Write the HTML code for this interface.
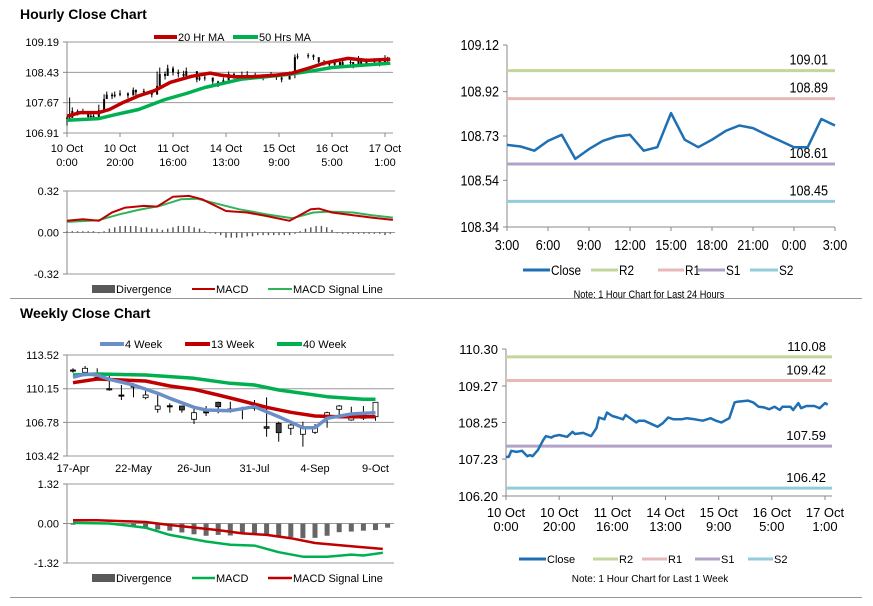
<!DOCTYPE html>
<html><head><meta charset="utf-8">
<style>
html,body{margin:0;padding:0;background:#fff;}
body{width:873px;height:601px;overflow:hidden;font-family:"Liberation Sans",Arial,sans-serif;}
svg text{font-family:"Liberation Sans",Arial,sans-serif;}
</style></head>
<body>
<svg id="s" width="873" height="601" viewBox="0 0 873 601" xmlns="http://www.w3.org/2000/svg">
<text x="20" y="19" font-size="14" font-weight="bold" fill="#000">Hourly Close Chart</text>
<text x="20" y="318" font-size="14" font-weight="bold" fill="#000">Weekly Close Chart</text>
<line x1="10" y1="298.5" x2="862" y2="298.5" stroke="#999" stroke-width="1"/>
<line x1="10" y1="597.5" x2="862" y2="597.5" stroke="#999" stroke-width="1"/>
</svg>
<script>
// ---------- data ----------
const hourIdx = [0,1,2,4,6,8,9,10,12,14,15,17,18,20,23,25,26,29,32,34,35,37,38,40,42,44,45,49,50,52,55,57,59,61,63,66,68,71,74,77,79,81,84,86,87,91,93,95,97,99,101,103,104,107,108,110,111,113,116,118,120,121];
const hourClose = [107.29,107.29,107.46,107.43,107.46,107.31,107.34,107.31,107.48,107.76,107.87,107.83,107.87,107.90,107.85,107.99,107.93,107.96,107.87,108.09,108.39,108.34,108.53,108.43,108.39,108.34,108.46,108.25,108.30,108.30,108.20,108.13,108.23,108.39,108.34,108.34,108.37,108.34,108.30,108.37,108.30,108.25,108.37,108.81,108.83,108.86,108.81,108.69,108.67,108.62,108.69,108.60,108.69,108.69,108.60,108.79,108.65,108.71,108.71,108.65,108.79,108.75];
const hourHigh = [107.33,107.80,107.55,107.50,107.52,107.40,107.42,107.38,107.62,107.88,107.95,107.92,107.95,107.98,107.93,108.05,108.00,108.02,107.95,108.45,108.55,108.45,108.62,108.58,108.50,108.47,108.55,108.36,108.38,108.36,108.30,108.22,108.30,108.45,108.42,108.45,108.46,108.42,108.38,108.44,108.38,108.34,108.45,108.88,108.90,108.91,108.88,108.78,108.74,108.70,108.76,108.68,108.76,108.76,108.68,108.84,108.74,108.78,108.78,108.72,108.86,108.82];
const hourLow = [107.10,107.22,107.36,107.35,107.38,107.25,107.27,107.25,107.40,107.45,107.80,107.76,107.80,107.83,107.78,107.88,107.85,107.88,107.80,107.95,108.20,108.25,108.40,108.35,108.30,108.26,108.36,108.18,108.22,108.22,108.10,108.06,108.15,108.30,108.27,108.27,108.30,108.27,108.23,108.30,108.24,108.18,108.30,108.28,108.76,108.78,108.74,108.62,108.60,108.55,108.60,108.53,108.62,108.62,108.53,108.70,108.58,108.64,108.64,108.58,108.70,108.68];
const ma20Idx = [0,5,12,16,21,27,33,39,47,54,58,63,70,79,85,92,97,106,113,122];
const ma20Val = [107.33,107.42,107.42,107.50,107.67,107.84,107.97,108.18,108.33,108.41,108.36,108.32,108.32,108.36,108.41,108.55,108.66,108.78,108.73,108.76];
const ma50Idx = [0,12,19,27,37,45,52,60,66,75,84,93,100,108,122];
const ma50Val = [107.23,107.27,107.38,107.50,107.75,107.90,108.05,108.17,108.26,108.32,108.38,108.47,108.55,108.59,108.66];
const hMacdIdx = [0,6,12,17,22,29,34,40,46,51,60,68,75,84,92,95,100,108,115,123];
const hMacdVal = [0.090,0.102,0.090,0.154,0.192,0.205,0.200,0.276,0.282,0.256,0.166,0.154,0.128,0.090,0.179,0.184,0.154,0.133,0.115,0.097];
const hSigIdx = [0,12,20,27,35,43,49,56,65,75,85,93,99,108,115,123];
const hSigVal = [0.082,0.095,0.141,0.174,0.205,0.256,0.261,0.225,0.179,0.141,0.110,0.154,0.161,0.154,0.133,0.115];
const hDivIdx = [0,2,4,6,8,10,12,14,16,18,20,22,24,26,28,30,32,34,36,38,40,42,44,46,48,50,52,54,56,58,60,62,64,66,68,70,72,74,76,78,80,82,84,86,88,90,92,94,96,98,100,102,104,106,108,110,112,114,116,118,120,122];
const hDivVal = [0.01,0.01,0.01,0.01,0.01,0.01,0.0,0.01,0.03,0.04,0.05,0.05,0.05,0.05,0.04,0.04,0.03,0.03,0.02,0.03,0.04,0.05,0.05,0.05,0.04,0.03,0.01,0.0,-0.01,-0.02,-0.04,-0.04,-0.04,-0.04,-0.03,-0.03,-0.02,-0.02,-0.02,-0.02,-0.02,-0.02,-0.02,-0.01,0.01,0.03,0.04,0.05,0.05,0.04,0.02,0.0,-0.01,-0.01,-0.01,-0.01,-0.01,-0.01,-0.01,-0.01,-0.02,-0.01];
const hTickIdx = [0,20,40,60,80,100,120];
const hTickL1 = ["10 Oct","10 Oct","11 Oct","14 Oct","15 Oct","16 Oct","17 Oct"];
const hTickL2 = ["0:00","20:00","16:00","13:00","9:00","5:00","1:00"];
const hPriceTicks = ["106.91","107.67","108.43","109.19"];
const hMacdTicks = ["-0.32","0.00","0.32"];

const dayClose = [108.692,108.685,108.667,108.709,108.735,108.632,108.674,108.709,108.728,108.735,108.667,108.682,108.828,108.714,108.682,108.714,108.752,108.775,108.764,108.735,108.709,108.682,108.682,108.803,108.775];
const dayTicks = ["3:00","6:00","9:00","12:00","15:00","18:00","21:00","0:00","3:00"];
const dayPriceTicks = ["108.34","108.54","108.73","108.92","109.12"];
const dayLevels = [109.01,108.89,108.61,108.45];
const weekLevels = [110.08,109.42,107.59,106.42];
const levelNames = ["R2","R1","S1","S2"];
const levelColors = ["#c3d69b","#e6b9b8","#b3a2c7","#93cddd"];
const weekPriceTicks = ["106.20","107.23","108.25","109.27","110.30"];

const wOpen  = [112.02,111.79,111.29,110.15,109.52,110.42,109.25,108.09,108.45,108.42,107.09,107.85,108.79,108.12,108.19,108.29,106.35,106.69,106.19,105.59,105.79,107.35,108.09,107.02,107.52,107.35];
const wClose = [112.02,112.19,111.29,110.05,109.52,110.42,109.52,108.42,108.45,108.02,107.75,107.85,108.35,108.12,108.19,108.29,106.19,105.75,106.52,106.19,106.35,107.75,108.42,107.69,107.19,108.79];
const wHigh  = [112.19,112.42,112.19,111.52,110.52,110.69,110.19,109.85,108.69,108.42,108.19,108.42,108.85,108.85,108.35,109.02,109.29,106.85,106.85,106.85,106.62,107.85,108.52,108.35,108.42,108.79];
const wLow   = [111.75,111.75,111.09,109.95,109.02,109.29,109.09,107.75,107.75,107.75,106.62,107.42,107.69,107.75,107.09,107.95,105.35,104.85,105.52,104.35,105.62,106.25,107.35,106.95,107.02,106.95];
const w4Idx = [0,1,2,3,5,7,8,10,11,13,15,17,19,20,21,23,24,25];
const w4Val = [111.29,111.62,111.52,111.09,110.52,109.69,109.19,108.29,108.02,107.95,108.35,107.35,106.25,106.25,107.19,107.62,107.69,107.75];
const w13Idx = [0,2,6,8,10,12,14,16,18,20,22,23,25];
const w13Val = [110.75,111.12,110.92,110.42,110.09,109.52,108.92,108.29,107.79,107.42,107.35,107.35,107.35];
const w40Idx = [0,2,6,10,13,15,17,21,24,25];
const w40Val = [111.52,111.62,111.52,111.19,110.69,110.52,110.02,109.35,109.09,109.09];
const wSigIdx = [0,2,6,8,12,14,16,18,20,23,25.6];
const wSigVal = [0.11,0.11,0.05,-0.05,-0.22,-0.33,-0.38,-0.49,-0.65,-0.76,-0.85];
const wMacdIdx = [0,3,6,8,11,13,15,17,19,21,23,24,25.6];
const wMacdVal = [0.02,0.0,-0.14,-0.38,-0.60,-0.71,-0.74,-0.96,-1.11,-1.11,-1.04,-1.07,-0.98];
const wDiv = [-0.04,-0.01,-0.01,-0.03,-0.05,-0.08,-0.12,-0.2,-0.24,-0.3,-0.36,-0.41,-0.38,-0.4,-0.35,-0.33,-0.4,-0.46,-0.45,-0.49,-0.48,-0.41,-0.29,-0.27,-0.24,-0.22,-0.14];
const wTickIdx = [0,5,10,15,20,25];
const wTickLbl = ["17-Apr","22-May","26-Jun","31-Jul","4-Sep","9-Oct"];
const wPriceTicks = ["103.42","106.78","110.15","113.52"];
const wMacdTicks = ["-1.32","0.00","1.32"];

// ---------- helpers ----------
const svg = document.getElementById('s');
const NS = 'http://www.w3.org/2000/svg';
function mk(tag, attrs){const e=document.createElementNS(NS,tag);for(const k in attrs)e.setAttribute(k,attrs[k]);svg.appendChild(e);return e;}
function lin(d0,d1,r0,r1){return v=>r0+(v-d0)/(d1-d0)*(r1-r0);}
function txt(x,y,s,size,anchor,name){const t=mk('text',{x:x,y:y,'font-size':size,'text-anchor':anchor||'start',fill:'#000'});t.textContent=s;


return t;}
// condensed text (Arial-Narrow look)
function ntxt(x,y,s,size,anchor,name){const t=mk('text',{x:0,y:0,'font-size':size,'text-anchor':anchor||'start',fill:'#000',transform:'translate('+x+','+y+') scale(0.84,1)'});t.textContent=s;


return t;}
function poly(xs,ys,color,w,name){let d='';for(let i=0;i<xs.length;i++)d+=(i?'L':'M')+xs[i].toFixed(1)+','+ys[i].toFixed(1);
const p=mk('path',{d:d,fill:'none',stroke:color,'stroke-width':w,'stroke-linejoin':'round'});


return p;}
function hline(x1,x2,y,color,w,name){const l=mk('line',{x1:x1,x2:x2,y1:y,y2:y,stroke:color,'stroke-width':w});


return l;}
function vline(x,y1,y2,color,w,name){const l=mk('line',{x1:x,x2:x,y1:y1,y2:y2,stroke:color,'stroke-width':w});


return l;}
function legendLine(x1,x2,y,color,w,label,name){hline(x1,x2,y,color,w,name+'-swatch');txt(x2+1,y+4,label,11,'start',name+'-label');}
function legendLineN(x1,x2,y,color,w,label,name){hline(x1,x2,y,color,w,name+'-swatch');ntxt(x2+1,y+5,label,14,'start',name+'-label');}
function legendBox(x1,x2,y,color,label,name){const r=mk('rect',{x:x1,y:y-4,width:x2-x1,height:8,fill:color});


txt(x2+1,y+4,label,11,'start',name+'-label');}

// ---------- Panel 1: hourly candles ----------
{
 const xs=lin(0,120,67,385), ys=lin(106.91,109.19,133,42);
 hPriceTicks.forEach(t=>{const y=ys(parseFloat(t));hline(67,393,y,'#999',1,'hourly-gridline');hline(63,67,y,'#888',1,'hourly-y-tick');txt(59,y+4,t,11,'end','hourly-y-label');});
 vline(67,42,133,'#888',1,'hourly-y-axis');
 hTickIdx.forEach((v,i)=>{const x=xs(v);vline(x,133,137,'#888',1,'hourly-x-tick');txt(x,152,hTickL1[i],11,'middle','hourly-x-label');txt(x,166,hTickL2[i],11,'middle','hourly-x-label');});
 hourIdx.forEach((h,i)=>{const x=xs(h);vline(x,ys(hourHigh[i]),ys(hourLow[i]),'#000',1,'hourly-candle-wick');
  const o=i?hourClose[i-1]:hourClose[i];const c=hourClose[i];const top=ys(Math.max(o,c)),bot=ys(Math.min(o,c));
  const r=mk('rect',{x:x-1,y:top,width:2,height:Math.max(1,bot-top),fill:'#000'});
  
  
 });
 poly(ma50Idx.map(xs),ma50Val.map(ys),'#00b050',3.5,'ma-50-line');
 poly(ma20Idx.map(xs),ma20Val.map(ys),'#c00000',3.5,'ma-20-line');
 legendLine(154,177,37,'#c00000',4,'20 Hr MA','legend-20hr-ma');
 legendLine(233,258,37,'#00b050',4,'50 Hrs MA','legend-50hrs-ma');
}
// ---------- Panel 1b: hourly MACD ----------
{
 const xs=lin(0,120,67,385), ys=lin(-0.32,0.32,274,191);
 hMacdTicks.forEach(t=>{const y=ys(parseFloat(t));hline(67,395,y,'#999',1,'hourly-macd-gridline');hline(63,67,y,'#888',1,'hourly-macd-tick');txt(59,y+4,t,11,'end','hourly-macd-y-label');});
 vline(67,191,274,'#888',1,'hourly-macd-axis');
 hDivIdx.forEach((h,i)=>{const v=hDivVal[i];const y0=ys(0),y1=ys(v);
  const r=mk('rect',{x:xs(h)-0.7,y:Math.min(y0,y1),width:1.4,height:Math.max(0.8,Math.abs(y1-y0)),fill:'#555'});
  
  
 });
 poly(hSigIdx.map(xs),hSigVal.map(ys),'#2fb45a',2,'hourly-macd-signal-line');
 poly(hMacdIdx.map(xs),hMacdVal.map(ys),'#c00000',2,'hourly-macd-line');
 legendBox(92,115,289,'#595959','Divergence','legend-hourly-divergence');
 legendLine(192,215,289,'#c00000',2,'MACD','legend-hourly-macd');
 legendLine(268,292,289,'#2fb45a',2,'MACD Signal Line','legend-hourly-signal');
}
// ---------- Panel 2: last 24 hours ----------
{
 const xs=lin(0,24,507,835), ys=lin(108.34,109.12,227,45);
 vline(507,45,227,'#888',1,'day-y-axis');hline(507,835,227,'#888',1,'day-x-axis');
 dayPriceTicks.forEach(t=>{const y=ys(parseFloat(t));hline(503,507,y,'#888',1,'day-y-tick');ntxt(499,y+5,t,15,'end','day-y-label');});
 dayTicks.forEach((t,i)=>{const x=xs(i*3);vline(x,227,231,'#888',1,'day-x-tick');ntxt(x,250,t,15,'middle','day-x-label');});
 dayLevels.forEach((v,i)=>{hline(507,835,ys(v),levelColors[i],3,'day-level-'+levelNames[i].toLowerCase());ntxt(828,ys(v)-6,v.toFixed(2),15,'end','day-level-label');});
 poly(dayClose.map((v,i)=>xs(i)),dayClose.map(ys),'#1f6fb4',2.5,'day-close-line');
 legendLineN(523,550,270,'#1f6fb4',3,'Close','legend-day-close');
 legendLineN(591,618,270,levelColors[0],3,'R2','legend-day-r2');
 legendLineN(658,684,270,levelColors[1],3,'R1','legend-day-r1');
 legendLineN(698,725,270,levelColors[2],3,'S1','legend-day-s1');
 legendLineN(750,778,270,levelColors[3],3,'S2','legend-day-s2');
 ntxt(649,298,'Note: 1 Hour Chart for Last 24 Hours',11,'middle','day-note');
}
// ---------- Panel 3: weekly candles ----------
{
 const xs=lin(0,25,73,375.5), ys=lin(103.42,113.52,456,355);
 wPriceTicks.forEach(t=>{const y=ys(parseFloat(t));hline(67,394,y,'#999',1,'weekly-gridline');hline(63,67,y,'#888',1,'weekly-y-tick');txt(59,y+4,t,11,'end','weekly-y-label');});
 vline(67,355,456,'#888',1,'weekly-y-axis');
 wTickIdx.forEach((v,i)=>{txt(xs(v),472,wTickLbl[i],11,'middle','weekly-x-label');});
 wOpen.forEach((o,i)=>{const x=xs(i),c=wClose[i];vline(x,ys(wHigh[i]),ys(wLow[i]),'#000',1,'weekly-candle-wick');
  const top=ys(Math.max(o,c)),bot=ys(Math.min(o,c));
  const r=mk('rect',{x:x-2.5,y:top,width:5,height:Math.max(1.2,bot-top),fill:c>=o&&bot-top>1.5?'#fff':(c<o?'#404040':'#000'),stroke:'#000','stroke-width':0.8});
  
  
 });
 poly(w40Idx.map(xs),w40Val.map(ys),'#00b050',3.5,'ma-40-week-line');
 poly(w13Idx.map(xs),w13Val.map(ys),'#c00000',3.5,'ma-13-week-line');
 poly(w4Idx.map(xs),w4Val.map(ys),'#6a8fc8',3.5,'ma-4-week-line');
 legendLine(100,124,344,'#6a8fc8',4,'4 Week','legend-4-week');
 legendLine(185,210,344,'#c00000',4,'13 Week','legend-13-week');
 legendLine(277,302,344,'#00b050',4,'40 Week','legend-40-week');
}
// ---------- Panel 3b: weekly MACD ----------
{
 const xs=lin(0,25,73,375.5), ys=lin(-1.32,1.32,563,484);
 wMacdTicks.forEach(t=>{const y=ys(parseFloat(t));hline(67,394,y,'#999',1,'weekly-macd-gridline');hline(63,67,y,'#888',1,'weekly-macd-tick');txt(59,y+4,t,11,'end','weekly-macd-y-label');});
 vline(67,484,563,'#888',1,'weekly-macd-axis');
 wDiv.forEach((v,i)=>{const y0=ys(0),y1=ys(v);
  const r=mk('rect',{x:xs(i)-2.5,y:Math.min(y0,y1),width:5,height:Math.abs(y1-y0),fill:'#666'});
  
  
 });
 poly(wMacdIdx.map(xs),wMacdVal.map(ys),'#00b050',2.5,'weekly-macd-line');
 poly(wSigIdx.map(xs),wSigVal.map(ys),'#c00000',2.5,'weekly-macd-signal-line');
 legendBox(92,115,578,'#595959','Divergence','legend-weekly-divergence');
 legendLine(192,215,578,'#00b050',2.5,'MACD','legend-weekly-macd');
 legendLine(268,292,578,'#c00000',2.5,'MACD Signal Line','legend-weekly-signal');
}
// ---------- Panel 4: last 1 week ----------
{
 const xs=lin(0,120,506,825), ys=lin(106.20,110.30,496,349);
 vline(506,349,496,'#888',1,'week-y-axis');hline(506,832,496,'#888',1,'week-x-axis');
 weekPriceTicks.forEach(t=>{const y=ys(parseFloat(t));hline(502,506,y,'#888',1,'week-y-tick');txt(498,y+5,t,13,'end','week-y-label');});
 hTickIdx.forEach((v,i)=>{const x=xs(v);vline(x,496,500,'#888',1,'week-x-tick');txt(x,517,hTickL1[i],13,'middle','week-x-label');txt(x,531,hTickL2[i],13,'middle','week-x-label');});
 weekLevels.forEach((v,i)=>{hline(506,832,ys(v),levelColors[i],3,'week-level-'+levelNames[i].toLowerCase());txt(826,ys(v)-6,v.toFixed(2),13,'end','week-level-label');});
 poly(hourIdx.map(xs),hourClose.map(ys),'#1f6fb4',2.5,'week-close-line');
 legendLine(519,546,559,'#1f6fb4',3,'Close','legend-week-close');
 legendLine(593,618,559,levelColors[0],3,'R2','legend-week-r2');
 legendLine(642,667,559,levelColors[1],3,'R1','legend-week-r1');
 legendLine(695,720,559,levelColors[2],3,'S1','legend-week-s1');
 legendLine(748,773,559,levelColors[3],3,'S2','legend-week-s2');
 txt(650,582,'Note: 1 Hour Chart for Last 1 Week',10,'middle','week-note');
}
</script>
</body></html>
